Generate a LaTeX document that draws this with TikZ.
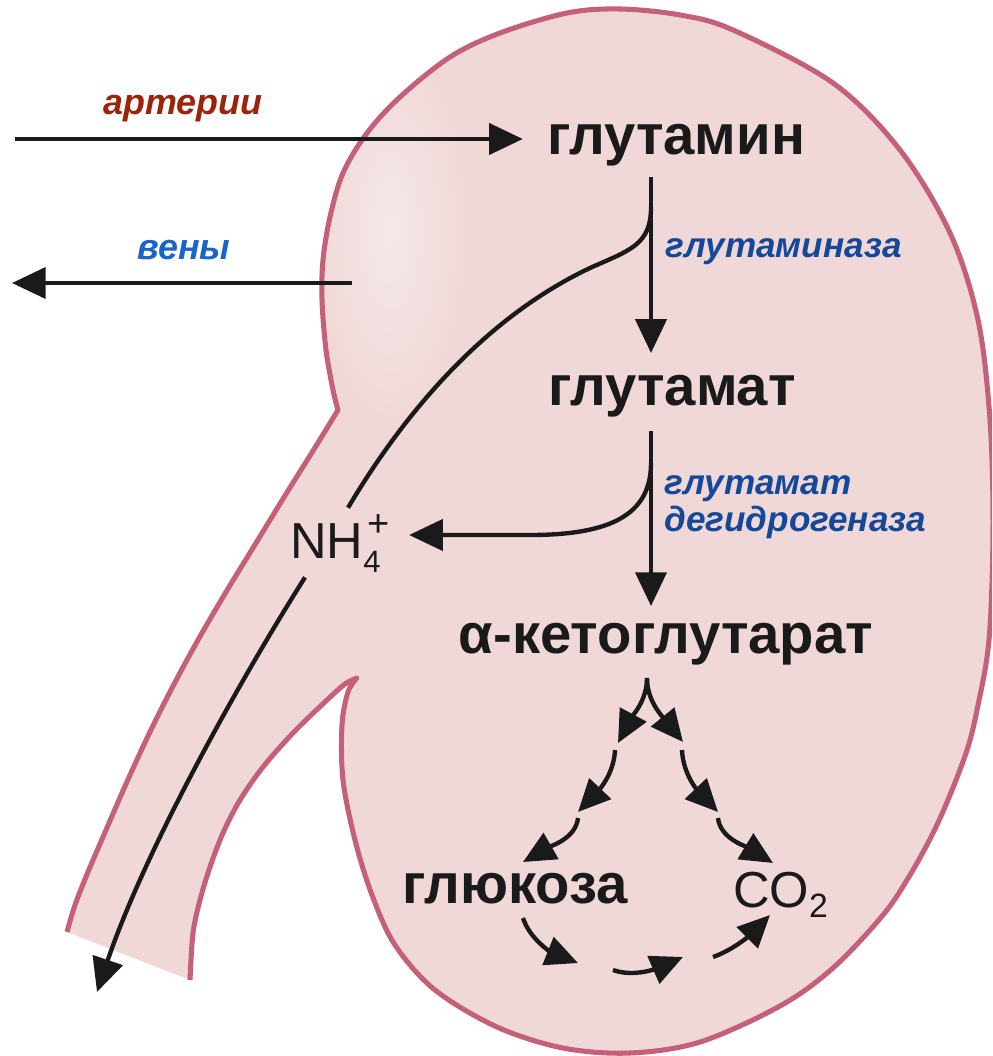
\documentclass[tikz,border=0pt]{standalone}
\usepackage{fontspec}
\setmainfont{Liberation Sans}
\usetikzlibrary{arrows.meta}

\definecolor{kidfill}{RGB}{240,216,216}
\definecolor{kidline}{RGB}{196,96,122}
\definecolor{kidshine}{RGB}{246,232,232}
\definecolor{ink}{RGB}{26,26,26}
\definecolor{artred}{RGB}{155,35,10}
\definecolor{veinblue}{RGB}{25,100,200}
\definecolor{enzblue}{RGB}{20,72,152}

% kidney with ureter: left ureter wall, outer contour, ureter right wall
\newcommand\kidneyedge{%
  plot[smooth, tension=0.55] coordinates {(67,932) (75,905) (88,872) (106,830) (126,784) (148,736) (172,688) (198,640) (226,592) (256,543) (286,494) (316,446) (338,410)}
  -- plot[smooth, tension=0.55] coordinates {(338,410) (333,390) (326,350) (322,300) (323,260) (330,217) (343,173) (367,133) (400,97) (450,57) (500,33) (567,13) (620,9) (680,15) (733,30) (833,83) (900,150) (950,233) (978,320) (990,420) (993,530) (989,640) (977,710) (967,750) (950,795) (933,833) (910,875) (883,915) (833,968) (780,1006) (700,1042) (630,1053) (563,1048) (497,1027) (435,990) (395,945) (372,895) (355,840) (343,780) (342,725) (348,692) (357,678)}
  -- plot[smooth, tension=0.55] coordinates {(357,678) (345,684) (327,700) (293,733) (263,767) (240,800) (223,833) (210,867) (200,900) (193,933) (190,980)}}

\begin{document}
\begin{tikzpicture}[x=0.025cm, y=-0.025cm,
  chem/.style={font=\fontsize{40}{48}\selectfont\bfseries, inner sep=0pt,
    text height=22pt, text depth=8.8pt, text=ink},
  ion/.style={font=\fontsize{36}{42}\selectfont, inner sep=0pt, text=ink},
  enzyme/.style={font=\fontsize{25}{26.3}\selectfont\bfseries\itshape,
    text=enzblue, inner sep=0pt, align=left},
  vessel/.style={font=\fontsize{25.5}{30}\selectfont\bfseries\itshape, inner sep=0pt},
  flow/.style={line width=3.1pt, draw=ink, -{Triangle[length=24pt,width=22pt]}},
  plain/.style={line width=3.1pt, draw=ink},
  hop/.style={line width=3.1pt, draw=ink, -{Triangle[length=23pt,width=21pt]}},
  organ/.style={draw=kidline, line width=3.6pt, line join=round}
]
\useasboundingbox (0,0) rectangle (992,1056);
\clip (0,0) rectangle (992,1056);

% organ body
\fill[kidfill] \kidneyedge -- cycle;
\begin{scope}
  \clip \kidneyedge -- cycle;
  \shade[inner color=kidshine, outer color=kidfill] (390,230) ellipse [x radius=75, y radius=190];
\end{scope}
\draw[organ] \kidneyedge;

% metabolites
\node[chem, anchor=base] (gln) at (676,155) {глутамин};
\node[chem, anchor=base] (glu) at (672,405) {глутамат};
\node[chem, anchor=base] (akg) at (666,653) {α-кетоглутарат};
\node[chem, anchor=base] (glc) at (515,903) {глюкоза};
\node[ion, anchor=base west] (co2) at (733,907)
  {CO\raisebox{-7.8pt}{\fontsize{24}{24}\selectfont 2}};
\node[ion, anchor=base west] (nh4) at (290,558)
  {NH\rlap{\raisebox{-10pt}{\fontsize{22}{22}\selectfont 4}}\hspace{3pt}\raisebox{15pt}{\fontsize{27}{27}\selectfont +}};

% enzymes and vessels
\node[enzyme, anchor=base west] (gase) at (665,258) {глутаминаза};
\node[enzyme, anchor=west] (gdh) at (664,507) {глутамат\\дегидрогеназа};
\node[vessel, text=artred, anchor=base] (art) at (183,115) {артерии};
\node[vessel, text=veinblue, anchor=base] (vn) at (184,260) {вены};

% blood supply
\coordinate (artsrc) at (15,139);
\coordinate (veinsrc) at (352,283);
\coordinate (veinout) at (12,283);
\draw[flow, shorten >=17pt] (artsrc) -- (artsrc -| gln.west);
\draw[flow] (veinsrc) -- (veinout);

% main pathway
\coordinate (axis1) at (651,0);
\draw[flow, shorten <=6.8pt, shorten >=14.8pt] (gln.south -| axis1) -- (glu.north -| axis1);
\draw[flow, shorten <=9.6pt, shorten >=11.2pt] (glu.south -| axis1) -- (akg.north -| axis1);

% ammonium release
\coordinate (nhsplit) at (651,207);
\coordinate (nhsplitb) at (651,463);
\coordinate (nhlevel) at (530,535);
\coordinate (urout) at (97,992);
\draw[plain] (nhsplit) .. controls (651,245) and (630,250) .. (590,268)
  .. controls (480,320) and (400,420) .. ([shift={(8,-7)}]nh4.north);
\draw[flow] ([shift={(15,5)}]nh4.south west) .. controls (240,680) and (145,850) .. (urout);
\draw[flow, shorten >=13.5pt] (nhsplitb) .. controls (651,515) and (610,535) .. (nhlevel)
  -- (nhlevel -| nh4.east);

% multi-step routes from alpha-ketoglutarate
\coordinate (fork) at (647,678);
\coordinate (l1) at (618,743);  \coordinate (l1b) at (615,750);
\coordinate (l2) at (578,812);  \coordinate (l2b) at (578,818);
\coordinate (l3) at (523,862);
\coordinate (r1) at (683,742);  \coordinate (r1b) at (682,750);
\coordinate (r2) at (718,812);  \coordinate (r2b) at (718,818);
\coordinate (r3) at (773,863);
\coordinate (b0) at (523,918);
\coordinate (b1) at (578,963);  \coordinate (b1b) at (613,970);
\coordinate (b2) at (683,957);  \coordinate (b2b) at (713,957);
\coordinate (b3) at (770,915);

\draw[hop] (fork) .. controls (647,700) and (633,715) .. (l1);
\draw[hop] (l1b) .. controls (614,775) and (597,792) .. (l2);
\draw[hop] (l2b) .. controls (576,838) and (551,846) .. (l3);
\draw[hop] (fork) .. controls (647,700) and (661,715) .. (r1);
\draw[hop] (r1b) .. controls (683,775) and (699,792) .. (r2);
\draw[hop] (r2b) .. controls (720,838) and (745,846) .. (r3);
\draw[hop] (b0) .. controls (530,940) and (553,953) .. (b1);
\draw[hop] (b1b) .. controls (635,978) and (660,967) .. (b2);
\draw[hop] (b2b) .. controls (733,950) and (750,935) .. (b3);
\end{tikzpicture}
\end{document}
